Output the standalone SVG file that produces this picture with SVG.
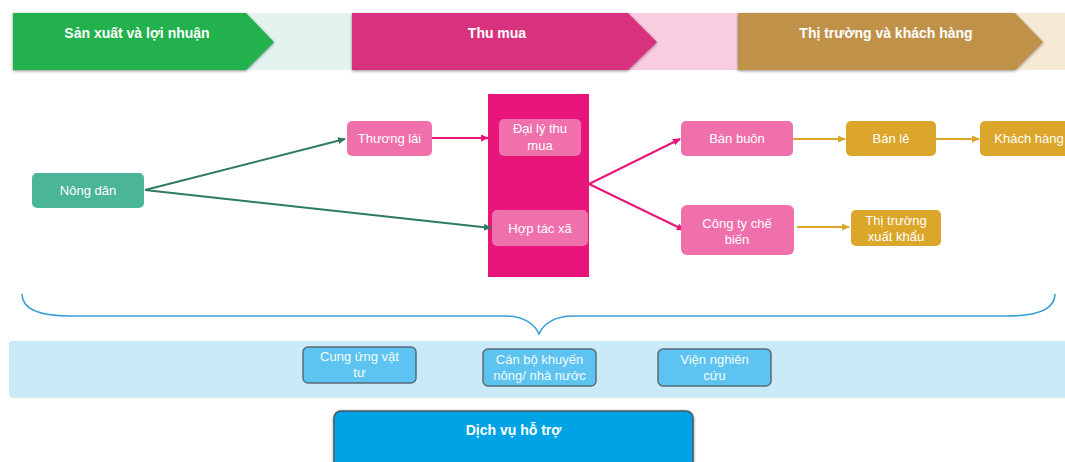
<svg xmlns="http://www.w3.org/2000/svg" width="1065" height="462" viewBox="0 0 1065 462">
<style>
text{font-family:"Liberation Sans",Arial,sans-serif;fill:#fff;text-anchor:middle}
.hd{font-size:14px;font-weight:bold}
.nd{font-size:13px}
.sp{font-size:13px;fill:#f4fbff}
.g{stroke:#2e7a62;stroke-width:2;fill:none}
.p{stroke:#e8157a;stroke-width:2;fill:none}
.y{stroke:#dba62a;stroke-width:2;fill:none}
</style>
<defs>
<filter id="sh" x="-5%" y="-10%" width="110%" height="130%"><feDropShadow dx="0" dy="1" stdDeviation="1.5" flood-color="#000" flood-opacity="0.45"/></filter>
<marker id="ag" markerWidth="8" markerHeight="8" refX="7" refY="4" orient="auto" markerUnits="userSpaceOnUse"><path d="M0,0.5 L8,4 L0,7.5 Z" fill="#2e7a62"/></marker>
<marker id="ap" markerWidth="8" markerHeight="8" refX="7" refY="4" orient="auto" markerUnits="userSpaceOnUse"><path d="M0,0.5 L8,4 L0,7.5 Z" fill="#e8157a"/></marker>
<marker id="ay" markerWidth="8" markerHeight="8" refX="7" refY="4" orient="auto" markerUnits="userSpaceOnUse"><path d="M0,0.5 L8,4 L0,7.5 Z" fill="#dba62a"/></marker>
</defs>
<rect width="1065" height="462" fill="#fff"/>
<g id="header">
<rect x="13" y="13" width="339" height="57" fill="#e3f3ef"/>
<rect x="352" y="13" width="386" height="57" fill="#f9cde0"/>
<rect x="738" y="13" width="327" height="57" fill="#f6ead5"/>
<g id="h1"><polygon points="13,13 246,13 274,42 246,70 13,70" fill="#23b14d" filter="url(#sh)"/><text class="hd" x="137" y="38">Sản xuất và lợi nhuận</text></g>
<g id="h2"><polygon points="352,13 628,13 657,42 628,70 352,70" fill="#d8307f" filter="url(#sh)"/><text class="hd" x="497" y="38">Thu mua</text></g>
<g id="h3"><polygon points="738,13 1015,13 1043,42 1015,70 738,70" fill="#c0914a" filter="url(#sh)"/><text class="hd" x="886" y="38">Thị trường và khách hàng</text></g>
</g>
<g id="thu-mua-column"><rect x="488" y="94" width="101" height="183" fill="#e8157a"/></g>
<g id="connectors">
<line class="g" x1="145" y1="190" x2="345" y2="139" marker-end="url(#ag)"/>
<line class="g" x1="145" y1="190" x2="491" y2="228" marker-end="url(#ag)"/>
<line class="p" x1="432" y1="138" x2="488" y2="138" marker-end="url(#ap)"/>
<line class="p" x1="589" y1="184" x2="680" y2="139" marker-end="url(#ap)"/>
<line class="p" x1="589" y1="184" x2="684" y2="230" marker-end="url(#ap)"/>
<line class="y" x1="793" y1="139" x2="845" y2="139" marker-end="url(#ay)"/>
<line class="y" x1="936" y1="139" x2="979" y2="139" marker-end="url(#ay)"/>
<line class="y" x1="797" y1="227" x2="849" y2="227" marker-end="url(#ay)"/>
</g>
<g id="nong-dan"><rect x="32" y="173" width="112" height="35" rx="5" fill="#4bb597"/><text class="nd" x="88" y="195">Nông dân</text></g>
<g id="thuong-lai"><rect x="347" y="121" width="85" height="35" rx="5" fill="#f070ac"/><text class="nd" x="389.5" y="143">Thương lái</text></g>
<g id="dai-ly"><rect x="499" y="119" width="82" height="37" rx="5" fill="#f070ac"/><text class="nd" x="540" y="133">Đại lý thu</text><text class="nd" x="540" y="150">mua</text></g>
<g id="hop-tac-xa"><rect x="492" y="210" width="96" height="36" rx="5" fill="#f070ac"/><text class="nd" x="540" y="233">Hợp tác xã</text></g>
<g id="ban-buon"><rect x="681" y="121" width="112" height="35" rx="5" fill="#f070ac"/><text class="nd" x="737" y="143">Bán buôn</text></g>
<g id="cong-ty"><rect x="681" y="205" width="113" height="50" rx="6" fill="#f070ac"/><text class="nd" x="737" y="228">Công ty chế</text><text class="nd" x="737" y="244">biến</text></g>
<g id="ban-le"><rect x="846" y="121" width="90" height="35" rx="5" fill="#dba62a"/><text class="nd" x="891" y="143">Bán lẻ</text></g>
<g id="khach-hang"><rect x="980" y="121" width="98" height="35" rx="5" fill="#dba62a"/><text class="nd" x="1029" y="143">Khách hàng</text></g>
<g id="thi-truong-xk"><rect x="851" y="210" width="90" height="36" rx="5" fill="#dba62a"/><text class="nd" x="896" y="225">Thị trường</text><text class="nd" x="896" y="241">xuất khẩu</text></g>
<g id="brace"><path d="M22,294 C22,310 40,316 70,316 L505,316 C525,316 535,325 539,334 C543,325 553,316 573,316 L1007,316 C1037,316 1055,310 1055,294" fill="none" stroke="#3a9fd8" stroke-width="1.6"/></g>
<g id="support-band"><rect x="9" y="341" width="1070" height="57" rx="3" fill="#cbeaf8"/></g>
<g id="cung-ung"><rect x="303" y="347" width="113" height="36" rx="5" fill="#5dc3f0" stroke="#5b6b78" stroke-width="1.5"/><text class="sp" x="359.5" y="361">Cung ứng vật</text><text class="sp" x="359.5" y="377">tư</text></g>
<g id="can-bo"><rect x="483" y="349" width="113" height="37" rx="5" fill="#5dc3f0" stroke="#5b6b78" stroke-width="1.5"/><text class="sp" x="539.5" y="364">Cán bộ khuyến</text><text class="sp" x="539.5" y="380">nông/ nhà nước</text></g>
<g id="vien"><rect x="658" y="349" width="113" height="37" rx="5" fill="#5dc3f0" stroke="#5b6b78" stroke-width="1.5"/><text class="sp" x="714.5" y="364">Viện nghiên</text><text class="sp" x="714.5" y="380">cứu</text></g>
<g id="dich-vu"><rect x="334" y="411" width="359" height="60" rx="7" fill="#00a3e4" stroke="#4a5560" stroke-width="1.5" filter="url(#sh)"/><text class="hd" x="513.5" y="435">Dịch vụ hỗ trợ</text></g>
</svg>
